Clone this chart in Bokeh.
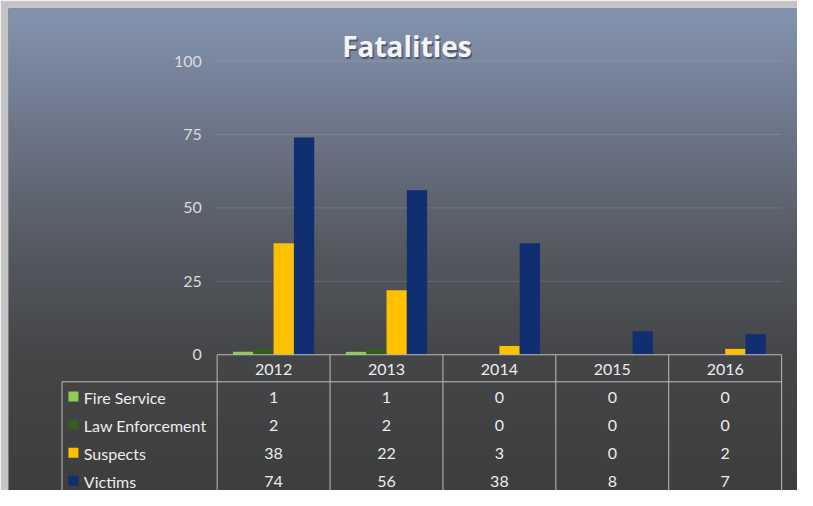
import numpy as np
from bokeh.plotting import figure
from bokeh.models import Range1d
from bokeh.core.properties import value
from bokeh.embed import file_html
from bokeh.resources import INLINE

# ---------------- data ----------------
years = ["2012", "2013", "2014", "2015", "2016"]
series_names = ["Fire Service", "Law Enforcement", "Suspects", "Victims"]
fire_service = [1, 1, 0, 0, 0]
law_enforcement = [2, 2, 0, 0, 0]
suspects = [38, 22, 3, 0, 2]
victims = [74, 56, 38, 8, 7]
y_ticks = [0, 25, 50, 75, 100]
y_tick_labels = ["0", "25", "50", "75", "100"]
title_text = "Fatalities"

series_values = [fire_service, law_enforcement, suspects, victims]
colors = ["#8fcd52", "#335c20", "#ffc000", "#112f70"]

# ---------------- layout helpers (reference pixel -> data) ----------------
COL_PX = 113.9      # reference pixels per year column
UNIT_PX = 2.985     # reference pixels per value unit
COL0_PX = 220.5     # reference x of the first column border
ZERO_PX = 362.0     # reference y of value 0


def dx(px):
    return (px - COL0_PX) / COL_PX


def dy(py):
    return (ZERO_PX - py) / UNIT_PX


W, H = 797, 490
BORDER = 8
# reference panel extent
P_L, P_R, P_T, P_B = 10, 806, 10, 500
xr = (dx(P_L), dx(P_R))
yr = (dy(P_B), dy(P_T))

p = figure(width=W, height=H, output_backend="svg", toolbar_location=None,
           x_range=Range1d(*xr), y_range=Range1d(*yr),
           x_axis_location=None, y_axis_location=None,
           min_border_left=BORDER, min_border_top=BORDER, min_border_right=0, min_border_bottom=0,
           border_fill_color="#c4c4c4", background_fill_color="#3f3f3f",
           outline_line_color=None)
p.grid.visible = False

# background gradient (style only)
n_rows = P_B - P_T
page_y = np.linspace(P_B, P_T, n_rows)
stop_y = [10, 140, 250, 362, 500]
stop_r = [0x84, 0x6b, 0x56, 0x45, 0x3e]
stop_g = [0x94, 0x74, 0x5a, 0x46, 0x3e]
stop_b = [0xb0, 0x86, 0x62, 0x48, 0x3e]
img = np.empty((n_rows, 2), dtype=np.uint32)
view = img.view(dtype=np.uint8).reshape((n_rows, 2, 4))
for c, stops in enumerate([stop_r, stop_g, stop_b]):
    view[:, :, c] = np.interp(page_y, stop_y, stops).astype(np.uint8)[:, None]
view[:, :, 3] = 255
p.image_rgba(image=[img], x=xr[0], y=yr[0], dw=xr[1] - xr[0], dh=yr[1] - yr[0], level="image")

n_years = len(years)

# gridlines
grid_vals = y_ticks[1:]
p.segment(x0=[0] * len(grid_vals), x1=[n_years] * len(grid_vals), y0=grid_vals, y1=grid_vals,
          line_color="#ffffff", line_alpha=0.13, line_width=1)

# y tick labels
p.text(x=[dx(205)] * len(y_ticks), y=y_ticks, text=y_tick_labels,
       text_align="right", text_baseline="middle",
       text_font=value("Lato"), text_font_size="16px", text_color="#dcdcdc")

# bars
bar_w = 0.18
for i, (vals, col) in enumerate(zip(series_values, colors)):
    off = (i - 1.5) * bar_w
    xs = [k + 0.5 + off for k in range(n_years)]
    p.vbar(x=xs, top=vals, bottom=0, width=bar_w, fill_color=col, line_color=None)

# data table lines
line_col = "#bdbdbd"
header_bottom = dy(389.5)
table_bottom = yr[0] - 1
p.segment(x0=[0], x1=[n_years], y0=[0], y1=[0], line_color=line_col, line_width=1)
p.segment(x0=[dx(64)], x1=[n_years], y0=[header_bottom], y1=[header_bottom],
          line_color=line_col, line_width=1)
vx = list(range(n_years + 1))
p.segment(x0=vx, x1=vx, y0=[0] * len(vx), y1=[table_bottom] * len(vx),
          line_color=line_col, line_width=1)
p.segment(x0=[dx(64)], x1=[dx(64)], y0=[header_bottom], y1=[table_bottom],
          line_color=line_col, line_width=1)

font = value("Lato")
txt_col = "#ececec"
# header years
p.text(x=[k + 0.5 for k in range(n_years)], y=[dy(376.5)] * n_years, text=years,
       text_align="center", text_baseline="middle",
       text_font=font, text_font_size="16px", text_color=txt_col)

row_y = [dy(405.3 + 28.6 * r) for r in range(len(series_names))]
for r, vals in enumerate(series_values):
    p.text(x=[k + 0.5 for k in range(n_years)], y=[row_y[r]] * n_years,
           text=[str(v) for v in vals], text_align="center", text_baseline="middle",
           text_font=font, text_font_size="16px", text_color=txt_col)

# legend keys and names in table
p.scatter(x=[dx(75.5)] * len(series_names), y=[ry + 0.3 for ry in row_y], marker="square",
          size=10, fill_color=colors, line_color=None)
p.text(x=[dx(86)] * len(series_names), y=row_y, text=series_names,
       text_align="left", text_baseline="middle",
       text_font=font, text_font_size="16px", text_color=txt_col)

# title with shadow
tx, ty = dx(412), dy(48)
p.text(x=[tx], y=[ty], text=[title_text], x_offset=1.5, y_offset=2,
       text_align="center", text_baseline="middle",
       text_font=value("Open Sans"), text_font_style="bold", text_font_size="28px",
       text_color="#2a3140", text_alpha=0.55)
p.text(x=[tx], y=[ty], text=[title_text],
       text_align="center", text_baseline="middle",
       text_font=value("Open Sans"), text_font_style="bold", text_font_size="28px",
       text_color="#f4f4f4")

open("out.html", "w").write(file_html(p, INLINE))
